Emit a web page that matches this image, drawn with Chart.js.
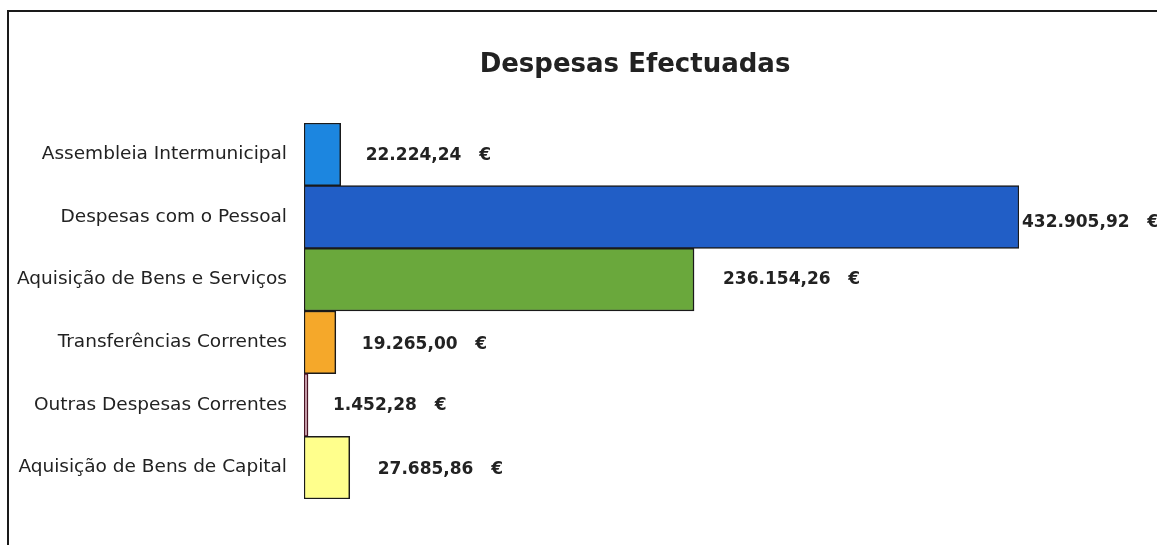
<!DOCTYPE html>
<html>
<head>
<meta charset="utf-8">
<script src="https://cdn.jsdelivr.net/npm/chart.js@4.4.0/dist/chart.umd.min.js"></script>
<style>
  html, body { margin: 0; padding: 0; background: #fff; overflow: hidden; width: 1157px; height: 545px; }
  #c { position: absolute; left: 0; top: 0; }
  #frame { position: absolute; left: 7px; top: 10px; width: 1300px; height: 700px;
           border-left: 2px solid #1a1a1a; border-top: 2px solid #1a1a1a; pointer-events: none; }
</style>
</head>
<body>
<canvas id="c" width="1157" height="545"></canvas>
<div id="frame"></div>
<script>
const title = "Despesas Efectuadas";
const categories = [
  "Assembleia Intermunicipal",
  "Despesas com o Pessoal",
  "Aquisição de Bens e Serviços",
  "Transferências Correntes",
  "Outras Despesas Correntes",
  "Aquisição de Bens de Capital"
];
const values = [22224.24, 432905.92, 236154.26, 19265.00, 1452.28, 27685.86];
const currency = "€";

const fillColors = ["#1c86e0", "#215ec6", "#6aa83c", "#f5a82a", "#d8b0bc", "#ffff8c"];
const edgeColors = ["#1a1a1a", "#1a1a1a", "#1a1a1a", "#1a1a1a", "#4a1424", "#1a1a1a"];
const labelDx = [25, 3, 29, 26, 25, 28];
const labelDy = [1, 6, 0, 2, 1, 2];

function fmt(v) {
  const parts = v.toFixed(2).split(".");
  const intPart = parts[0].replace(/\B(?=(\d{3})+(?!\d))/g, ".");
  return intPart + "," + parts[1];
}

const valueLabels = {
  id: "valueLabels",
  afterLayout(chart) {
    // widen the label clip box of the category axis to the canvas edge
    chart.scales.y.left = 0;
  },
  afterDatasetsDraw(chart) {
    const ctx = chart.ctx;
    const meta = chart.getDatasetMeta(0);
    ctx.save();
    ctx.font = "bold 17px 'DejaVu Sans'";
    ctx.fillStyle = "#222";
    ctx.textBaseline = "middle";
    ctx.textAlign = "left";
    meta.data.forEach((el, i) => {
      const txt = fmt(values[i]) + "   " + currency;
      ctx.fillText(txt, el.x + labelDx[i], el.y + labelDy[i]);
    });
    ctx.restore();
  }
};

new Chart(document.getElementById("c"), {
  type: "bar",
  data: {
    labels: categories,
    datasets: [{
      data: values,
      backgroundColor: fillColors,
      borderColor: edgeColors,
      borderWidth: 1.5,
      borderSkipped: false,
      minBarLength: 4,
      categoryPercentage: 1.0,
      barPercentage: 1.0
    }]
  },
  options: {
    indexAxis: "y",
    responsive: false,
    animation: false,
    layout: { padding: { left: 251, right: 138, top: 0, bottom: 46 } },
    plugins: {
      legend: { display: false },
      tooltip: { enabled: false },
      title: {
        display: true,
        text: title,
        color: "#222",
        font: { family: "'DejaVu Sans'", size: 26, weight: "bold" },
        padding: { top: 50, bottom: 41.8 }
      }
    },
    scales: {
      x: {
        display: false,
        min: 0,
        max: Math.max(...values)
      },
      y: {
        type: "category",
        grid: { display: false, drawTicks: false },
        border: { display: false },
        ticks: {
          color: "#222",
          padding: 17,
          font: { family: "'DejaVu Sans'", size: 18.5 }
        },
        afterFit(scale) { scale.width = 53; }
      }
    }
  },
  plugins: [valueLabels]
});
</script>
</body>
</html>
